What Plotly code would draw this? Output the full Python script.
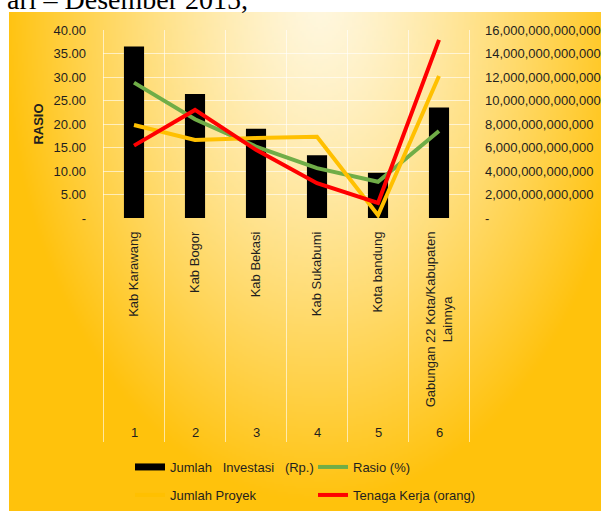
import base64, struct, zlib
import numpy as np
import plotly.graph_objects as go

# ---------------- data ----------------
categories = ["Kab Karawang", "Kab Bogor", "Kab Bekasi", "Kab Sukabumi", "Kota bandung",
              "Gabungan 22 Kota/Kabupaten<br>Lainnya"]
cat_numbers = ["1", "2", "3", "4", "5", "6"]
investasi = [14.6e12, 10.55e12, 7.6e12, 5.35e12, 3.85e12, 9.4e12]   # Jumlah Investasi (Rp.)
rasio = [28.8, 21.0, 15.2, 10.6, 7.7, 18.5]                        # Rasio (%)
proyek = [19.8, 16.6, 17.0, 17.3, 0.6, 30.2]                       # Jumlah Proyek
tenaga = [15.4, 23.0, 14.5, 7.4, 3.2, 37.9]                        # Tenaga Kerja (orang)
left_ticks = [0, 5, 10, 15, 20, 25, 30, 35, 40]
right_ticks = [0, 2e12, 4e12, 6e12, 8e12, 10e12, 12e12, 14e12, 16e12]

W, H = 601, 511
L, R, T, B = 103, 131, 30, 293
pw, ph = W - L - R, H - T - B

# ---------------- gradient background image ----------------
gw, gh = 296, 250
xs = np.linspace(9, 601, gw)
ys = np.linspace(12, 511, gh)
X, Y = np.meshgrid(xs, ys)
d = np.sqrt(((X - 320) / 320) ** 2 + ((Y - 5) / 500) ** 2)
t = np.clip(d, 0, 1) ** 1.3
pale = np.array([255, 247, 222], dtype=float)
gold = np.array([255, 194, 12], dtype=float)
img = (pale[None, None, :] * (1 - t[..., None]) + gold[None, None, :] * t[..., None]).astype(np.uint8)


def png_bytes(arr):
    h, w, _ = arr.shape
    raw = b"".join(b"\x00" + arr[r].tobytes() for r in range(h))

    def chunk(tag, data):
        c = struct.pack(">I", len(data)) + tag + data
        return c + struct.pack(">I", zlib.crc32(tag + data) & 0xffffffff)

    return (b"\x89PNG\r\n\x1a\n" + chunk(b"IHDR", struct.pack(">IIBBBBB", w, h, 8, 2, 0, 0, 0))
            + chunk(b"IDAT", zlib.compress(raw, 9)) + chunk(b"IEND", b""))


src = "data:image/png;base64," + base64.b64encode(png_bytes(img)).decode()

FONT = "Liberation Sans"
TXT = "#1f1f1f"


def tick_label(name):
    # centre the shorter second line of a two-line rotated label
    parts = name.split("<br>")
    if len(parts) == 2:
        pad = max(0, int((len(parts[0]) - len(parts[1])) * 0.95))
        return parts[0] + "<br>" + parts[1] + "\u00a0" * pad
    return name


fig = go.Figure()
fig.add_trace(go.Bar(x=categories, y=investasi, marker=dict(color="black", line=dict(width=0)),
                     yaxis="y", showlegend=False, name="Jumlah Investasi (Rp.)"))
fig.add_trace(go.Scatter(x=[None], y=[None], mode="lines", line=dict(color="black", width=7),
                         name="Jumlah\u00a0\u00a0\u00a0Investasi\u00a0\u00a0\u00a0(Rp.)", yaxis="y2", legend="legend"))
fig.add_trace(go.Scatter(x=categories, y=rasio, mode="lines", line=dict(color="#70AD47", width=4),
                         name="Rasio (%)", yaxis="y2", legend="legend"))
fig.add_trace(go.Scatter(x=categories, y=proyek, mode="lines", line=dict(color="#FFC000", width=4),
                         name="Jumlah Proyek", yaxis="y2", legend="legend2"))
fig.add_trace(go.Scatter(x=categories, y=tenaga, mode="lines", line=dict(color="#FF0000", width=4),
                         name="Tenaga Kerja (orang)", yaxis="y2", legend="legend2"))

shapes = []
label_depth = (442 - (T + ph)) / ph
for i in range(len(categories) + 1):
    shapes.append(dict(type="line", xref="x", yref="paper", x0=i - 0.5, x1=i - 0.5,
                       y0=-label_depth, y1=1, line=dict(color="rgba(255,255,255,0.6)", width=1),
                       layer="below"))

annotations = []
for c, n in zip(categories, cat_numbers):
    annotations.append(dict(x=c, xref="x", y=-(433 - (T + ph)) / ph, yref="paper", text=n,
                            yanchor="middle", xanchor="center",
                            showarrow=False, font=dict(family=FONT, size=13, color=TXT)))
annotations.append(dict(x=(5 - L) / pw, xref="paper", y=1 + (T - 17) / ph, yref="paper",
                        xanchor="left", yanchor="bottom", text="ari \u2013 Desember 2015,",
                        showarrow=False, font=dict(family="Liberation Serif", size=28, color="black")))

leg_common = dict(orientation="h", xref="container", yref="container", xanchor="left", yanchor="top",
                  x=130 / W, entrywidth=138, bgcolor="rgba(0,0,0,0)",
                  font=dict(family=FONT, size=13, color=TXT))

fig.update_layout(
    width=W, height=H,
    margin=dict(l=L, r=R, t=T, b=B, autoexpand=False),
    paper_bgcolor="white", plot_bgcolor="rgba(0,0,0,0)",
    images=[dict(source=src, xref="paper", yref="paper", x=(9 - L) / pw, y=(H - B - 12) / ph,
                 sizex=(W - 9) / pw, sizey=(H - 12) / ph, sizing="stretch", layer="below",
                 xanchor="left", yanchor="top")],
    bargap=0.67,
    xaxis=dict(type="category", tickangle=-90, showgrid=False, showline=False, zeroline=False,
               tickvals=categories, ticktext=[tick_label(c) for c in categories],
               ticks="", ticklabelstandoff=10, tickfont=dict(family=FONT, size=13, color=TXT)),
    yaxis=dict(side="right", range=[0, 16e12], tickvals=right_ticks,
               ticktext=["-" if v == 0 else f"{int(v):,}" for v in right_ticks],
               showgrid=False, zeroline=False, showline=False, ticks="", ticklabelstandoff=14,
               tickfont=dict(family=FONT, size=13, color=TXT)),
    yaxis2=dict(overlaying="y", side="left", range=[0, 40], tickvals=left_ticks,
                ticktext=["-" if v == 0 else f"{v:.2f}" for v in left_ticks],
                showgrid=True, gridcolor="rgba(255,255,255,0.6)", gridwidth=1,
                zeroline=False, showline=False, ticks="", ticklabelstandoff=16,
                tickfont=dict(family=FONT, size=13, color=TXT),
                title=dict(text="<b>RASIO</b>", font=dict(family=FONT, size=13, color=TXT), standoff=6)),
    legend=dict(y=1 - 452 / H, **leg_common),
    legend2=dict(y=1 - 480 / H, **leg_common),
    shapes=shapes,
    annotations=annotations,
)

fig.write_html("out.html", config={"displayModeBar": False},
               post_script="document.body.style.margin='0';document.body.style.overflow='hidden';")
